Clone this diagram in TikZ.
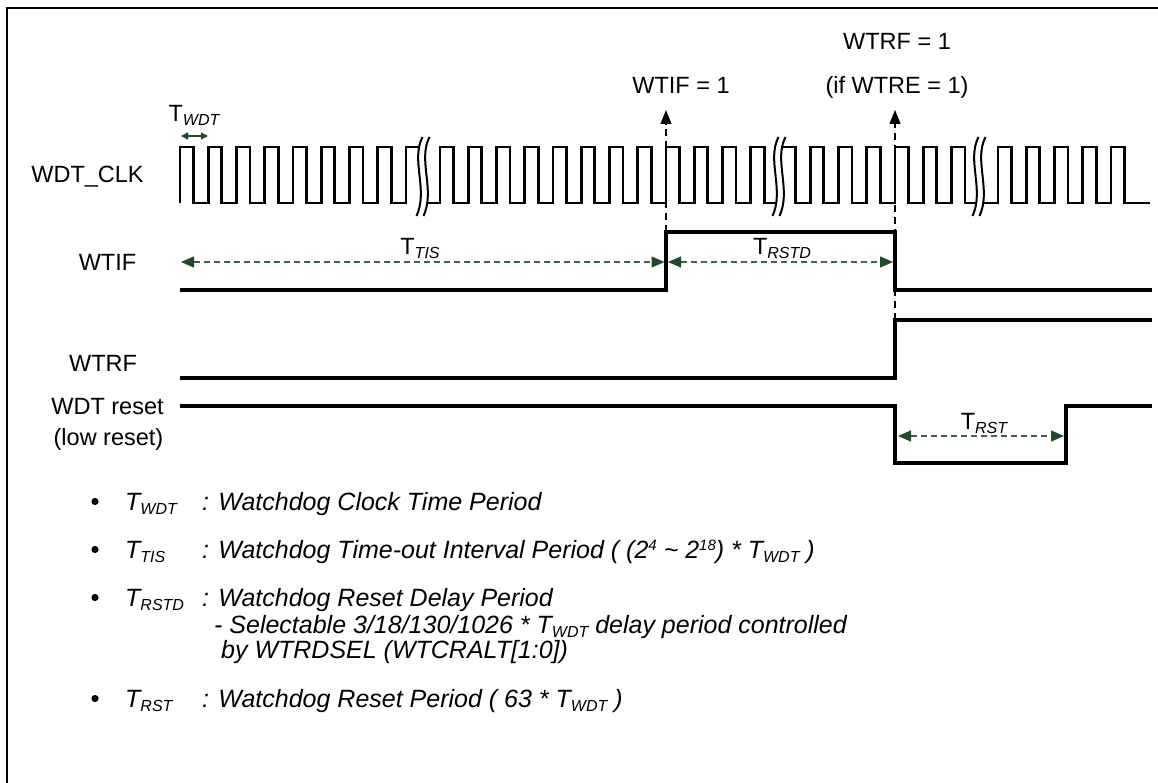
\documentclass[tikz,border=0pt]{standalone}
\usepackage{fontspec}
\setmainfont{Liberation Sans}
\usetikzlibrary{arrows.meta}
\definecolor{dimgreen}{RGB}{30,75,42}
\definecolor{dashgreen}{RGB}{60,100,70}
\newcommand{\Tsub}[1]{T\raisebox{-4pt}{\fontsize{16}{16}\selectfont\itshape #1}}
\newcommand{\supr}[1]{\raisebox{8pt}{\fontsize{15}{15}\selectfont #1}}
\newcommand{\clkbreak}[1]{%
  \fill[white] ({#1-0.5},137) .. controls ({#1-12.5},160) and ({#1+5.5},190) .. ({#1-6.5},216)
     -- ({#1+0.5},216) .. controls ({#1+12.5},190) and ({#1-5.5},160) .. ({#1+6.5},137) -- cycle;
  \draw[brk] ({#1-0.5},137) .. controls ({#1-12.5},160) and ({#1+5.5},190) .. ({#1-6.5},216);
  \draw[brk] ({#1+6.5},137) .. controls ({#1-5.5},160) and ({#1+12.5},190) .. ({#1+0.5},216);
}
\tikzset{
  clk/.style={line width=2.6pt, line join=miter},
  sig/.style={line width=3.2pt, line join=miter},
  brk/.style={line width=2pt},
  lbl/.style={inner sep=0pt, anchor=base},
  lst/.style={inner sep=0pt, anchor=base west, font=\fontsize{25}{30}\selectfont\itshape},
  dimarrow/.style={dashgreen, line width=1.5pt, dash pattern=on 6pt off 4pt,
     {Triangle[length=13pt,width=11pt,color=dimgreen]}-{Triangle[length=13pt,width=11pt,color=dimgreen]}},
  uparrow/.style={black, line width=1.3pt, dash pattern=on 7pt off 5pt,
     -{Triangle[length=14pt,width=11pt]}},
}
\begin{document}
\begin{tikzpicture}[x=1pt,y=-1pt,font=\fontsize{23.5}{28}\selectfont]
\useasboundingbox (0,0) rectangle (1158,783);
% frame
\draw[line width=1.8pt] (1158,8) -- (7,8) -- (7,783);

% clock
\draw[clk] (180,203) \foreach \k in {0,...,7} { -- ({180+28.25*\k},203) -- ({180+28.25*\k},147) -- ({193.5+28.25*\k},147) -- ({193.5+28.25*\k},203) } -- (406,203) -- (406,147) -- (423,147);
\draw[clk] (423,203) \foreach \k in {-8,...,3} { -- ({666+28.25*\k},203) -- ({666+28.25*\k},147) -- ({679.5+28.25*\k},147) -- ({679.5+28.25*\k},203) } -- (779,203);
\draw[clk] (779,147) -- (795.5,147) -- (795.5,203) \foreach \k in {-3,...,2} { -- ({895+28.25*\k},203) -- ({895+28.25*\k},147) -- ({908.5+28.25*\k},147) -- ({908.5+28.25*\k},203) } -- (979,203);
\draw[clk] (979,203) \foreach \k in {0,...,4} { -- ({998+28.25*\k},203) -- ({998+28.25*\k},147) -- ({1011.5+28.25*\k},147) -- ({1011.5+28.25*\k},203) } -- (1150,203);
\clkbreak{423}
\clkbreak{779}
\clkbreak{979}

% coordinates
\coordinate (tisL) at (181,262);
\coordinate (wtifR) at (666,262);
\coordinate (wtifF) at (895,262);
\coordinate (rstF) at (896,436);
\coordinate (rstR) at (1066,436);
\coordinate (wtifTop) at (666,232);
\coordinate (wtrfTop) at (895,320);
\coordinate (arrTip1) at (666,110);
\coordinate (arrTip2) at (895,110);

% signals
\draw[sig] (180,290) -- (666,290) -- (666,232) -- (895,232) -- (895,290) -- (1152,290);
\draw[sig] (180,378) -- (895,378) -- (895,320) -- (1152,320);
\draw[sig] (180,406) -- (895,406) -- (895,463) -- (1066,463) -- (1066,406) -- (1152,406);

% timing arrows
\draw[dimarrow] (tisL) -- ([xshift=-1.5pt]wtifR);
\draw[dimarrow] ([xshift=2pt]wtifR) -- ([xshift=-2pt]wtifF);
\draw[dimarrow] ([xshift=2pt]rstF) -- ([xshift=-2pt]rstR);
\draw[dimgreen, line width=1.5pt, {Triangle[length=7pt,width=7pt]}-{Triangle[length=7pt,width=7pt]}] (181,136) -- (208,136);

% event arrows
\draw[uparrow] (wtifTop) -- (arrTip1);
\draw[uparrow] (wtrfTop) -- (arrTip2);

% labels
\node[lbl] (twdt) at (194,121.5) {\Tsub{WDT}};
\node[lbl] (ttis) at (420,255) {\Tsub{TIS}};
\node[lbl] (trstd) at (782,255) {\Tsub{RSTD}};
\node[lbl] (trst) at (984,429) {\Tsub{RST}};
\node[lbl] (wtifeq) at (681,93.5) {WTIF = 1};
\node[lbl] (wtrfeq) at (897,50) {WTRF = 1};
\node[lbl] (ifwtre) at (897,93.5) {(if WTRE = 1)};

\node[lbl] (nclk) at (87.5,183) {WDT\_CLK};
\node[lbl] (nwtif) at (107.5,271) {WTIF};
\node[lbl] (nwtrf) at (103,371) {WTRF};
\node[lbl] (nrst) at (107.5,414.5) {WDT reset};
\node[lbl] (nrst2) at (108.5,445) {(low reset)};

% bottom list
\foreach \yy in {501.5,549.5,597.5,698.5} { \fill (95,\yy) circle (3.6); }
\node[lst] (l1a) at (125,510.5) {\Tsub{WDT}};
\node[lst] (l1b) at (202,510.5) {: Watchdog Clock Time Period};
\node[lst] (l2a) at (125,558.5) {\Tsub{TIS}};
\node[lst] (l2b) at (202,558.5) {: Watchdog Time-out Interval Period ( (2\supr{4} \textasciitilde{} 2\supr{18}) * \Tsub{WDT} )};
\node[lst] (l3a) at (125,606.5) {\Tsub{RSTD}};
\node[lst] (l3b) at (202,606.5) {: Watchdog Reset Delay Period};
\node[lst] (l3c) at (214,633.5) {- Selectable 3/18/130/1026 * \Tsub{WDT} delay period controlled};
\node[lst] (l3d) at (221,658.5) {by WTRDSEL (WTCRALT[1:0])};
\node[lst] (l4a) at (125,707.5) {\Tsub{RST}};
\node[lst] (l4b) at (202,707.5) {: Watchdog Reset Period ( 63 * \Tsub{WDT} )};
\end{tikzpicture}
\end{document}
